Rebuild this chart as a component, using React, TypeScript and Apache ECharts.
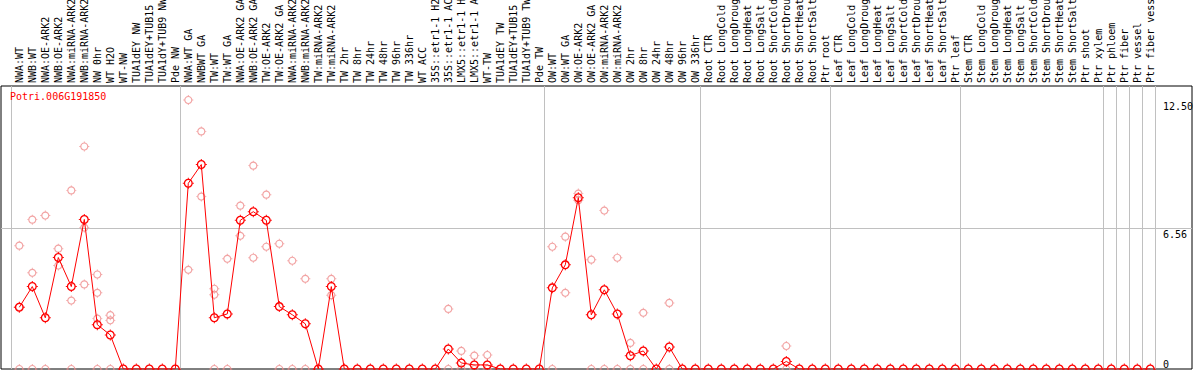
import React, { useEffect, useRef } from "react";
import * as echarts from "echarts";

const geneId = "Potri.006G191850";

const categories: string[] = [
  "NWA:WT", "NWB:WT", "NWA:OE-ARK2", "NWB:OE-ARK2", "NWA:miRNA-ARK2", "NWB:miRNA-ARK2",
  "NW 0hr", "WT H2O", "WT-NW", "TUA1dEY NW", "TUA1dEY+TUB15 NW", "TUA1dY+TUB9 NW", "Pde NW",
  "NWA:WT GA", "NWBWT GA", "TW:WT", "TW:WT GA", "NWA:OE-ARK2 GA", "NWB:OE-ARK2 GA",
  "TW:OE-ARK2", "TW:OE-ARK2 GA", "NWA:miRNA-ARK2 GA", "NWB:miRNA-ARK2 GA", "TW:miRNA-ARK2",
  "TW:miRNA-ARK2 GA", "TW 2hr", "TW 8hr", "TW 24hr", "TW 48hr", "TW 96hr", "TW 336hr",
  "WT ACC", "35S::etr1-1 H2O", "35S::etr1-1 ACC", "LMX5::etr1-1 H2O", "LMX5::etr1-1 ACC",
  "WT-TW", "TUA1dEY TW", "TUA1dEY+TUB15 TW", "TUA1dY+TUB9 TW", "Pde TW",
  "OW:WT", "OW:WT GA", "OW:OE-ARK2", "OW:OE-ARK2 GA", "OW:miRNA-ARK2", "OW:miRNA-ARK2 GA",
  "OW 2hr", "OW 8hr", "OW 24hr", "OW 48hr", "OW 96hr", "OW 336hr",
  "Root CTR", "Root LongCold", "Root LongDrought", "Root LongHeat", "Root LongSalt",
  "Root ShortCold", "Root ShortDrought", "Root ShortHeat", "Root ShortSalt", "Ptr root",
  "Leaf CTR", "Leaf LongCold", "Leaf LongDrought", "Leaf LongHeat", "Leaf LongSalt",
  "Leaf ShortCold", "Leaf ShortDrought", "Leaf ShortHeat", "Leaf ShortSalt", "Ptr leaf",
  "Stem CTR", "Stem LongCold", "Stem LongDrought", "Stem LongHeat", "Stem LongSalt",
  "Stem ShortCold", "Stem ShortDrought", "Stem ShortHeat", "Stem ShortSalt", "Ptr shoot",
  "Ptr xylem", "Ptr phloem", "Ptr fiber", "Ptr vessel", "Ptr fiber vessel",
];

const meanValues: number[] = [
  2.87, 3.83, 2.38, 5.18, 3.83, 6.95, 2.06, 1.58, 0, 0, 0, 0, 0,
  8.63, 9.5, 2.38, 2.56, 6.91, 7.31, 6.91, 2.9, 2.52, 2.1, 0, 3.83,
  0, 0, 0, 0, 0, 0, 0, 0, 0.93, 0.28, 0.19, 0.19, 0, 0, 0, 0,
  3.77, 4.84, 7.96, 2.52, 3.68, 2.56, 0.62, 0.84, 0, 1.02, 0, 0,
  0, 0, 0, 0, 0, 0, 0.35, 0, 0, 0,
  0, 0, 0, 0, 0, 0, 0, 0, 0, 0,
  0, 0, 0, 0, 0, 0, 0, 0, 0, 0, 0,
  0, 0, 0, 0,
];

// [category index, replicate value]
const replicates: [number, number][] = [
  [0, 5.73], [0, 2.88], [0, 0],
  [1, 6.94], [1, 4.47], [1, 0],
  [2, 7.13], [2, 0],
  [3, 5.59], [3, 4.81],
  [4, 8.3], [4, 3.18], [4, 0],
  [5, 10.34], [5, 6.57], [5, 3.93],
  [6, 4.39], [6, 3.54], [6, 2.34], [6, 0],
  [7, 2.5], [7, 2.26], [7, 0],
  [13, 12.5], [13, 4.61],
  [14, 11.04], [14, 8.01],
  [15, 3.73], [15, 3.45], [15, 0],
  [16, 5.12], [16, 0],
  [17, 7.59], [17, 6.19],
  [18, 9.45], [18, 5.17],
  [19, 8.1], [19, 5.68],
  [20, 5.82], [20, 0],
  [21, 5.03], [21, 0],
  [22, 4.19], [22, 0],
  [24, 4.19], [24, 3.43],
  [33, 2.79], [33, 0],
  [34, 0.84], [34, 0],
  [35, 0.62], [35, 0],
  [36, 0.65], [36, 0],
  [41, 5.68], [41, 0],
  [42, 6.15], [42, 3.54],
  [43, 8.15], [43, 7.84],
  [44, 5.08], [44, 0],
  [45, 7.36], [45, 0],
  [46, 5.17], [46, 0],
  [47, 1.21], [47, 0],
  [48, 2.61], [48, 0],
  [50, 3.07], [50, 0],
  [59, 1.07], [59, 0],
];

// category index at which each separated group starts
const groupStarts: number[] = [0, 13, 41, 53, 63, 73, 84, 85, 86, 87, 88];

const yTickValues: number[] = [0, 6.56, 12.5];
const yTickLabels: string[] = ["0", "6.56", "12.50"];

const FONT = "DejaVu Sans Mono";
const MARKER =
  "path://M 1 5.5 C 1 3.015 3.015 1 5.5 1 C 7.985 1 10 3.015 10 5.5 C 10 7.985 7.985 10 5.5 10 C 3.015 10 1 7.985 1 5.5 Z " +
  "M 2.3 5.5 C 2.3 7.267 3.733 8.7 5.5 8.7 C 7.267 8.7 8.7 7.267 8.7 5.5 C 8.7 3.733 7.267 2.3 5.5 2.3 C 3.733 2.3 2.3 3.733 2.3 5.5 Z " +
  "M 5 0 L 6 0 L 6 1 L 5 1 Z M 5 10 L 6 10 L 6 11 L 5 11 Z " +
  "M 0 5 L 1 5 L 1 6 L 0 6 Z M 10 5 L 11 5 L 11 6 L 10 6 Z";

export default function App() {
  const ref = useRef<HTMLDivElement>(null);

  useEffect(() => {
    if (!ref.current) return;
    const chart = echarts.init(ref.current, null, { renderer: "svg" });
    const yMax = 13.15;
    const yLabel = (v: number) => {
      const i = yTickValues.findIndex((t) => Math.abs(t - v) < 1e-6);
      return i >= 0 ? yTickLabels[i] : "";
    };
    const option: any = {
      animation: false,
      title: {
        text: geneId,
        left: 10,
        top: 91,
        padding: 0,
        textStyle: { color: "#ff0000", fontSize: 10, fontWeight: "normal", fontFamily: FONT },
      },
      grid: {
        left: 1,
        right: 2,
        top: 86,
        bottom: 1,
        show: true,
        borderColor: "#000",
        borderWidth: 1,
        backgroundColor: "transparent",
        containLabel: false,
        outerBoundsMode: "none",
      },
      xAxis: {
        type: "value",
        position: "top",
        min: -1.408,
        max: 90.208,
        axisLine: { show: false },
        axisTick: { show: false, customValues: groupStarts.map((b) => b - 0.62) },
        splitLine: { show: true, lineStyle: { color: "#c0c0c0", width: 1 } },
        axisLabel: {
          customValues: categories.map((_, i) => i),
          rotate: 90,
          margin: 3,
          fontSize: 10,
          fontFamily: FONT,
          color: "#000",
          formatter: (v: number) => categories[Math.round(v)] ?? "",
        },
      },
      yAxis: [
        {
          type: "value",
          position: "right",
          min: 0,
          max: yMax,
          axisLine: { show: false },
          axisTick: { show: false, customValues: [yTickValues[1]] },
          splitLine: { show: true, lineStyle: { color: "#c0c0c0", width: 1 } },
          axisLabel: {
            inside: true,
            margin: 29,
            align: "left",
            verticalAlign: "top",
            padding: [2, 0, 0, 0],
            customValues: [yTickValues[1], yTickValues[2]],
            formatter: yLabel,
            fontSize: 10,
            fontFamily: FONT,
            color: "#000",
          },
        },
        {
          type: "value",
          position: "right",
          min: 0,
          max: yMax,
          axisLine: { show: false },
          axisTick: { show: false },
          splitLine: { show: false },
          axisLabel: {
            inside: true,
            margin: 29,
            align: "left",
            verticalAlign: "bottom",
            customValues: [yTickValues[0]],
            formatter: yLabel,
            fontSize: 10,
            fontFamily: FONT,
            color: "#000",
          },
        },
      ],
      series: [
        {
          type: "scatter",
          name: "replicates",
          data: replicates,
          symbol: MARKER,
          symbolSize: 10,
          itemStyle: { color: "#ef8c8c" },
          z: 2,
        },
        {
          type: "line",
          name: "mean",
          data: meanValues.map((v, i) => [i, v]),
          symbol: MARKER,
          symbolSize: 11,
          showSymbol: true,
          lineStyle: { color: "#ff0000", width: 1 },
          itemStyle: { color: "#ff0000" },
          z: 3,
        },
      ],
    };
    chart.setOption(option);
    return () => chart.dispose();
  }, []);

  return (
    <div
      ref={ref}
      style={{ position: "fixed", left: 0, top: 0, width: 1194, height: 370, background: "#fff" }}
    />
  );
}
